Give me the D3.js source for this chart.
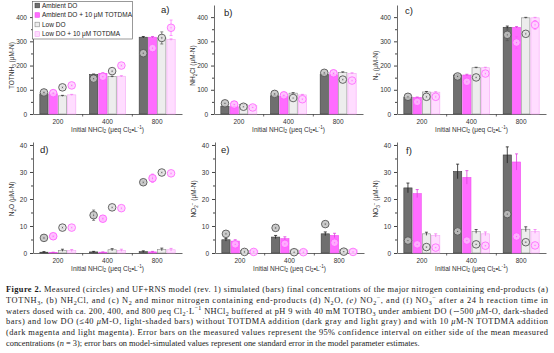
<!DOCTYPE html>
<html>
<head>
<meta charset="utf-8">
<script src="https://cdn.jsdelivr.net/npm/d3@7"></script>
<style>
  body { margin: 0; background: #fff; }
  svg { display: block; }
</style>
</head>
<body>
<script>
// categories + series
var doses = ["200", "400", "800"];
var series = ["Ambient DO", "Ambient DO + 10 μM TOTDMA", "Low DO", "Low DO + 10 μM TOTDMA"];

// a) TOTNH3  (rows = series, cols = dose)
var nh3Bars = [[83, 163, 317], [83, 168, 317], [75, 154, 314], [79, 156, 307]];
var nh3BarErr = [[2, 2, 3], [2, 2, 3], [2, 2, 3], [2, 2, 3]];
var nh3Circ = [[89, 146, 251], [86, 154, 272], [110, 177, 314], [118, 200, 356]];
var nh3CircErr = [[3, 3, 4], [3, 3, 5], [4, 4, 25], [4, 4, 32]];

// b) NH2Cl
var nh2clBars = [[32, 75, 163], [30, 72, 162], [39, 86, 172], [35, 79, 168]];
var nh2clBarErr = [[1, 2, 2], [1, 2, 2], [1, 2, 2], [1, 2, 2]];
var nh2clCirc = [[44, 83, 170], [39, 77, 168], [30, 66, 142], [27, 61, 138]];
var nh2clCircErr = [[2, 2, 3], [2, 2, 3], [2, 3, 4], [2, 3, 4]];

// c) N2
var n2Bars = [[68, 161, 358], [68, 161, 358], [91, 191, 397], [90, 191, 397]];
var n2BarErr = [[2, 3, 5], [2, 3, 3], [2, 2, 2], [2, 2, 2]];
var n2Circ = [[71, 155, 327], [50, 133, 295], [71, 151, 331], [71, 167, 368]];
var n2CircErr = [[3, 4, 24], [5, 6, 24], [4, 5, 5], [5, 6, 18]];

// d) N2O
var n2oBars = [[0.3, 0.4, 0.5], [0.2, 0.3, 0.4], [1.0, 1.2, 1.3], [0.9, 1.0, 1.2]];
var n2oBarErr = [[0.2, 0.2, 0.3], [0.1, 0.1, 0.2], [0.4, 0.4, 0.5], [0.4, 0.4, 0.5]];
var n2oCirc = [[5.6, 14.0, 26.2], [6.2, 12.7, 27.7], [9.4, 16.9, 29.8], [9.4, 16.6, 29.5]];
var n2oCircErr = [[0.3, 1.9, 0.4], [0.3, 0.5, 1.5], [0.4, 0.4, 0.4], [0.4, 0.4, 0.4]];

// e) NO2-
var no2Bars = [[4.9, 5.9, 7.1], [4.4, 5.3, 6.5], [1.0, 1.1, 1.2], [1.0, 1.0, 1.2]];
var no2BarErr = [[0.5, 0.6, 0.7], [0.5, 0.7, 0.8], [0.2, 0.2, 0.2], [0.2, 0.2, 0.2]];
var no2Circ = [[7.1, 9.3, 10.7], [3.2, 3.4, 3.8], [0.4, 0.3, 0.5], [0.4, 0.3, 0.4]];
var no2CircErr = [[0.3, 0.3, 0.3], [0.2, 0.2, 0.2], [0.1, 0.1, 0.1], [0.1, 0.1, 0.1]];

// f) NO3-
var no3Bars = [[24.1, 30.2, 36.3], [22.0, 28.0, 33.7], [7.1, 8.0, 8.8], [6.5, 7.1, 8.0]];
var no3BarErr = [[1.8, 2.7, 3.0], [1.5, 2.5, 3.0], [0.6, 0.7, 0.9], [0.6, 0.7, 0.7]];
var no3Circ = [[4.6, 8.0, 14.4], [3.2, 4.6, 6.1], [2.2, 3.2, 4.0], [2.0, 2.7, 2.8]];
var no3CircErr = [[0.2, 0.2, 0.3], [0.2, 0.2, 0.2], [0.2, 0.2, 0.2], [0.2, 0.2, 0.2]];

var topTicks = [0, 100, 200, 300, 400];
var bottomTicks = [0, 10, 20, 30, 40];

var caption = [
  "**Figure 2.** Measured (circles) and UF+RNS model (rev. 1) simulated (bars) final concentrations of the major nitrogen containing end-products (a)",
  "TOTNH_{3}, (b) NH_{2}Cl, and (c) N_{2} and minor nitrogen containing end-products (d) N_{2}O, *(e)* NO_{2}^{−}, and (f) NO_{3}^{−} after a 24 h reaction time in",
  "waters dosed with ca. 200, 400, and 800 *μ*eq Cl_{2}·L^{−1} NHCl_{2} buffered at pH 9 with 40 mM TOTBO_{3} under ambient DO (∼500 *μ*M-O, dark-shaded",
  "bars) and low DO (≤40 *μ*M-O, light-shaded bars) without TOTDMA addition (dark gray and light gray) and with 10 *μ*M-N TOTDMA addition",
  "(dark magenta and light magenta). Error bars on the measured values represent the 95% confidence interval on either side of the mean measured",
  "concentrations (*n* = 3); error bars on model-simulated values represent one standard error in the model parameter estimates."
];

var barFill = ["#6f6f6f", "#ff6cff", "#ededed", "#ffddff"];
var barStroke = ["#3c3c3c", "#ee52ee", "#8a8a8a", "#f6a6f6"];
var barErrCol = ["#1e1e1e", "#e040e0", "#333333", "#f27af2"];
var circStroke = ["#555555", "#ff5cff", "#555555", "#ff6eff"];
var circFill = ["#c4c4c4", "#ffb8ff", "#e2e2e2", "#ffd0ff"];

var W = 554, H = 353;
var svg = d3.select("body").append("svg").attr("width", W).attr("height", H)
  .style("font-family", "'Liberation Sans', Arial, sans-serif");

// tiny markup: _{sub} ^{sup} **bold** *italic*
function rich(sel, str, fs) {
  var parts = str.split(/(_\{[^}]*\}|\^\{[^}]*\}|\*\*[^*]+\*\*|\*[^*]+\*)/);
  var shift = 0;
  parts.forEach(function (p) {
    if (!p) return;
    var t = p, dy = 0, size = null, weight = null, style = null;
    if (p.indexOf("_{") === 0) { t = p.slice(2, -1); dy = fs * 0.28; size = fs * 0.72; }
    else if (p.indexOf("^{") === 0) { t = p.slice(2, -1); dy = -fs * 0.38; size = fs * 0.72; }
    else if (p.indexOf("**") === 0) { t = p.slice(2, -2); weight = "bold"; }
    else if (p.indexOf("*") === 0) { t = p.slice(1, -1); style = "italic"; }
    var ts = sel.append("tspan").text(t).attr("dy", dy - shift);
    shift = dy;
    if (size) ts.attr("font-size", size);
    if (weight) ts.attr("font-weight", weight);
    if (style) ts.attr("font-style", style);
  });
}

var panels = [
  { lab: "a)", lx: 161, ly: 13, ax: 33, row: 0, title: "TOTNH_{3} (μM-N)", bars: nh3Bars, be: nh3BarErr, circ: nh3Circ, ce: nh3CircErr },
  { lab: "b)", lx: 224, ly: 16, ax: 214, row: 0, title: "NH_{2}Cl (μM-N)", bars: nh2clBars, be: nh2clBarErr, circ: nh2clCirc, ce: nh2clCircErr },
  { lab: "c)", lx: 405, ly: 14, ax: 397, row: 0, title: "N_{2} (μM-N)", bars: n2Bars, be: n2BarErr, circ: n2Circ, ce: n2CircErr },
  { lab: "d)", lx: 40, ly: 153, ax: 33, row: 1, title: "N_{2}O (μM-N)", bars: n2oBars, be: n2oBarErr, circ: n2oCirc, ce: n2oCircErr },
  { lab: "e)", lx: 221, ly: 153, ax: 215, row: 1, title: "NO_{2}^{−} (μM-N)", bars: no2Bars, be: no2BarErr, circ: no2Circ, ce: no2CircErr },
  { lab: "f)", lx: 406, ly: 154, ax: 397, row: 1, title: "NO_{3}^{−} (μM-N)", bars: no3Bars, be: no3BarErr, circ: no3Circ, ce: no3CircErr }
];

var rows = [
  { base: 114, top: 5, max: 450, ticks: topTicks, minor: 50 },
  { base: 253, top: 142, max: 41.1, ticks: bottomTicks, minor: 5 }
];

var plotW = 149;
var fsAxis = 6.5;

panels.forEach(function (p) {
  var r = rows[p.row];
  var g = svg.append("g");
  var y = d3.scaleLinear().domain([0, r.max]).range([r.base, r.top]);
  var x = d3.scaleBand().domain(doses).range([p.ax, p.ax + plotW]);
  var xs = d3.scaleBand().domain(d3.range(series.length)).range([-18, 18]).paddingInner(0.11);

  // y axis
  var minorVals = d3.range(r.minor, r.max, r.minor * 2);
  g.append("g").attr("transform", "translate(" + p.ax + ",0)")
    .call(d3.axisLeft(y).tickValues(minorVals).tickSize(2).tickSizeOuter(0).tickFormat(""))
    .call(function (a) { a.select(".domain").remove(); a.selectAll("line").attr("stroke", "#444"); });
  var ya = g.append("g").attr("transform", "translate(" + p.ax + ",0)")
    .call(d3.axisLeft(y).tickValues(r.ticks).tickSize(3).tickSizeOuter(0).tickPadding(3).tickFormat(d3.format("d")));
  ya.select(".domain").attr("stroke", "#444").attr("stroke-width", 0.8);
  ya.selectAll("line").attr("stroke", "#444");
  ya.selectAll("text").attr("font-size", fsAxis).attr("fill", "#333").style("font-family", "'Liberation Sans', Arial, sans-serif");

  // x axis
  var xa = g.append("g").attr("transform", "translate(0," + r.base + ")")
    .call(d3.axisBottom(x).tickSize(0).tickPadding(5).tickSizeOuter(0));
  xa.select(".domain").attr("stroke", "#444").attr("stroke-width", 0.8);
  xa.selectAll("text").attr("font-size", fsAxis).attr("fill", "#333").style("font-family", "'Liberation Sans', Arial, sans-serif");
  g.selectAll(".sep").data(doses.slice(1)).enter().append("line")
    .attr("x1", function (d) { return x(d); }).attr("x2", function (d) { return x(d); })
    .attr("y1", r.base).attr("y2", r.base + 2.5).attr("stroke", "#444").attr("stroke-width", 0.8);

  // titles
  var xt = g.append("text").attr("x", p.ax + plotW / 2).attr("y", r.base + 17.5)
    .attr("text-anchor", "middle").attr("font-size", fsAxis).attr("fill", "#333");
  rich(xt, "Initial NHCl_{2} (μeq Cl_{2}•L^{-1})", fsAxis);
  var yt = g.append("text").attr("transform", "translate(" + (p.ax - 19) + "," + ((r.base + y(r.ticks[4])) / 2) + ") rotate(-90)")
    .attr("text-anchor", "middle").attr("font-size", fsAxis).attr("fill", "#333");
  rich(yt, p.title, fsAxis);

  g.append("text").attr("x", p.lx).attr("y", p.ly).attr("font-size", 9.5).attr("fill", "#222").text(p.lab);

  // bars
  series.forEach(function (s, si) {
    doses.forEach(function (d, di) {
      var cx = x(d) + x.bandwidth() / 2 + xs(si);
      var v = p.bars[si][di], e = p.be[si][di];
      g.append("rect").attr("x", cx).attr("y", y(v)).attr("width", xs.bandwidth())
        .attr("height", r.base - y(v)).attr("fill", barFill[si]).attr("stroke", barStroke[si]).attr("stroke-width", 0.6);
      var mx = cx + xs.bandwidth() / 2;
      g.append("path").attr("d", "M" + mx + "," + y(v - e) + "V" + y(v + e) + "M" + (mx - 1.5) + "," + y(v + e) + "H" + (mx + 1.5))
        .attr("stroke", barErrCol[si]).attr("stroke-width", 0.8).attr("fill", "none");
    });
  });

  // measured circles
  series.forEach(function (s, si) {
    doses.forEach(function (d, di) {
      var mx = x(d) + x.bandwidth() / 2 + xs(si) + xs.bandwidth() / 2;
      var v = p.circ[si][di], e = p.ce[si][di];
      g.append("path").attr("d", "M" + mx + "," + y(v - e) + "V" + y(v + e) +
          "M" + (mx - 1.5) + "," + y(v + e) + "H" + (mx + 1.5) + "M" + (mx - 1.5) + "," + y(v - e) + "H" + (mx + 1.5))
        .attr("stroke", circStroke[si]).attr("stroke-width", 0.7).attr("fill", "none");
      g.append("circle").attr("cx", mx).attr("cy", y(v)).attr("r", 3.8)
        .attr("fill", circFill[si]).attr("fill-opacity", 0.85).attr("stroke", circStroke[si]).attr("stroke-width", 0.9);
      g.append("circle").attr("cx", mx).attr("cy", y(v)).attr("r", 0.6).attr("fill", circStroke[si]);
    });
  });
});

// legend in panel a
var lg = svg.append("g");
lg.append("rect").attr("x", 32.5).attr("y", 1.5).attr("width", 100).attr("height", 37.5)
  .attr("fill", "#fff").attr("stroke", "#555").attr("stroke-width", 0.6);
series.forEach(function (s, i) {
  var yy = 5.5 + i * 9.5;
  lg.append("rect").attr("x", 35).attr("y", yy - 2.3).attr("width", 4.6).attr("height", 4.6)
    .attr("fill", barFill[i]).attr("stroke", barStroke[i]).attr("stroke-width", 0.6);
  lg.append("text").attr("x", 42).attr("y", yy + 2.3).attr("font-size", 6.5).attr("fill", "#222").text(s);
});

// caption
var cap = svg.append("g").style("font-family", "'Liberation Serif', 'Times New Roman', serif");
caption.forEach(function (line, i) {
  var t = cap.append("text").attr("x", 6).attr("y", 292 + i * 10.8).attr("font-size", 8.4).attr("fill", "#1a1a1a");
  if (i < caption.length - 1) t.attr("textLength", 542).attr("lengthAdjust", "spacing");
  rich(t, line, 8.4);
});
</script>
</body>
</html>
